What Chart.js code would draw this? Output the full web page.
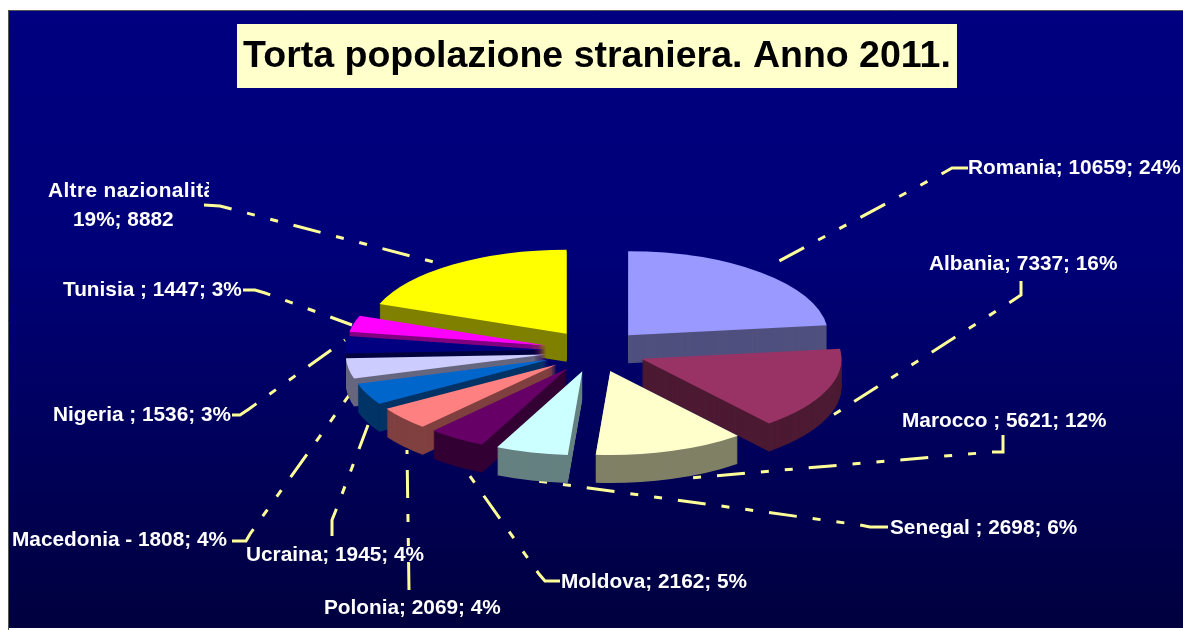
<!DOCTYPE html>
<html><head><meta charset="utf-8">
<style>html,body{margin:0;padding:0;background:#fff}canvas{display:block}</style>
<script src="https://cdn.jsdelivr.net/npm/chart.js@4"></script>
</head><body><canvas id="c" width="1183" height="630"></canvas>
<script>
const categories = ['Romania','Albania','Marocco','Senegal','Moldova','Polonia','Ucraina','Macedonia','Nigeria','Tunisia','Altre nazionalità'];
const values = [10659,7337,5621,2698,2162,2069,1945,1808,1536,1447,8882];
const topColors = ['#9999FF','#993366','#FFFFCC','#CCFFFF','#660066','#FF8080','#0066CC','#CCCCFF','#000080','#FF00FF','#FFFF00'];
const wallColors = ['#50507F','#4D1A33','#808066','#668080','#330033','#804040','#003366','#66667F','#000040','#800080','#808000'];
const labelTexts = ['Romania; 10659; 24%','Albania; 7337; 16%','Marocco ; 5621; 12%','Senegal ; 2698; 6%','Moldova; 2162; 5%','Polonia; 2069; 4%','Ucraina; 1945; 4%','Macedonia - 1808; 4%','Nigeria ; 1536; 3%','Tunisia ; 1447; 3%','Altre nazionalità'];
const extraLabel = '19%; 8882';
const titleText = 'Torta popolazione straniera. Anno 2011.';

const SQUASH = 0.42, EXPLODE = 50, DEPTH = 28;
const labelPos = [[968,168],[929,264],[902,421],[890,528],[561,582],[324,608],[246,555],[12,540],[53,415],[63,290],[48,191]];
const leaders = [
 [[968,168],[952,168],[945,172],[766,268]],
 [[1021,281],[1021,295],[1012,301],[830,417]],
 [[1003,435],[1003,452],[992,452],[690,478]],
 [[888,527],[870,527],[860,525],[530,480]],
 [[560,581],[545,581],[539,574],[455,455]],
 [[409,590],[407,450]],
 [[332,536],[332,520],[336,510],[368,425]],
 [[232,541],[246,541],[250,534],[360,380]],
 [[232,415],[240,415],[249,409],[345,340]],
 [[243,290],[255,290],[265,293],[352,325]],
 [[204,205],[220,206],[445,265]]
];

const scene = {
  id:'scene',
  beforeDraw(chart){
    const {ctx,width,height} = chart;
    ctx.save();
    ctx.fillStyle='#fff'; ctx.fillRect(0,0,width,height);
    const g = ctx.createLinearGradient(0,10,0,height);
    g.addColorStop(0,'#000080'); g.addColorStop(0.4,'#000078'); g.addColorStop(1,'#00003E');
    ctx.fillStyle=g; ctx.fillRect(8,10,width-8,height-12);
    ctx.strokeStyle='#555'; ctx.lineWidth=1;
    ctx.beginPath(); ctx.moveTo(8.5,height); ctx.lineTo(8.5,10.5); ctx.lineTo(width,10.5); ctx.stroke();
    // title
    ctx.fillStyle='#FFFFCC'; ctx.fillRect(237,24,720,64);
    ctx.fillStyle='#000'; ctx.font='bold 37.5px "Liberation Sans"'; ctx.textBaseline='middle'; ctx.textAlign='center';
    ctx.fillText(titleText,597,57);
    // leaders
    ctx.strokeStyle='#FFFF99'; ctx.lineWidth=3; ctx.setLineDash([28,16,8,16,8,16]);
    leaders.forEach(pts=>{ctx.beginPath();pts.forEach((p,i)=>i?ctx.lineTo(p[0],p[1]):ctx.moveTo(p[0],p[1]));ctx.stroke();});
    ctx.restore();
  },
  beforeDatasetsDraw(chart){
    const {ctx} = chart;
    const arcs = chart.getDatasetMeta(0).data.map((a,i)=>({a,i,mid:(a.startAngle+a.endAngle)/2}));
    arcs.sort((p,q)=>Math.sin(p.mid)-Math.sin(q.mid));
    arcs.forEach(({a,i,mid})=>{
      const ox=Math.cos(mid)*EXPLODE, oy=Math.sin(mid)*EXPLODE*SQUASH, saved=a.options;
      a.options=Object.assign({},saved,{backgroundColor:wallColors[i],borderWidth:0});
      for(let p=DEPTH;p>=1;p--){
        ctx.save(); ctx.translate(a.x+ox,a.y+oy+p); ctx.scale(1,SQUASH); ctx.translate(-a.x,-a.y);
        a.draw(ctx); ctx.restore();
      }
      a.options=Object.assign({},saved,{backgroundColor:topColors[i],borderWidth:0});
      ctx.save(); ctx.translate(a.x+ox,a.y+oy); ctx.scale(1,SQUASH); ctx.translate(-a.x,-a.y);
      a.draw(ctx); ctx.restore();
      a.options=saved;
    });
    return false;
  },
  afterDraw(chart){
    const {ctx} = chart;
    ctx.save();
    ctx.fillStyle='#fff'; ctx.font='bold 20.8px "Liberation Sans"'; ctx.textBaseline='middle'; ctx.textAlign='left';
    labelTexts.forEach((t,i)=>{
      ctx.save();
      if(i===10){ctx.letterSpacing='0.4px';ctx.beginPath();ctx.rect(0,160,209,60);ctx.clip();}
      ctx.fillText(t,labelPos[i][0],labelPos[i][1]);
      ctx.restore();
    });
    ctx.fillText(extraLabel,73,220);
    ctx.restore();
  }
};

new Chart(document.getElementById('c'),{
  type:'pie',
  data:{labels:categories,datasets:[{data:values,backgroundColor:topColors,borderWidth:0}]},
  options:{
    responsive:false,animation:false,radius:200,
    layout:{padding:{left:7,top:72,right:0,bottom:0}},
    plugins:{legend:{display:false},tooltip:{enabled:false},title:{display:false}}
  },
  plugins:[scene]
});
</script></body></html>
